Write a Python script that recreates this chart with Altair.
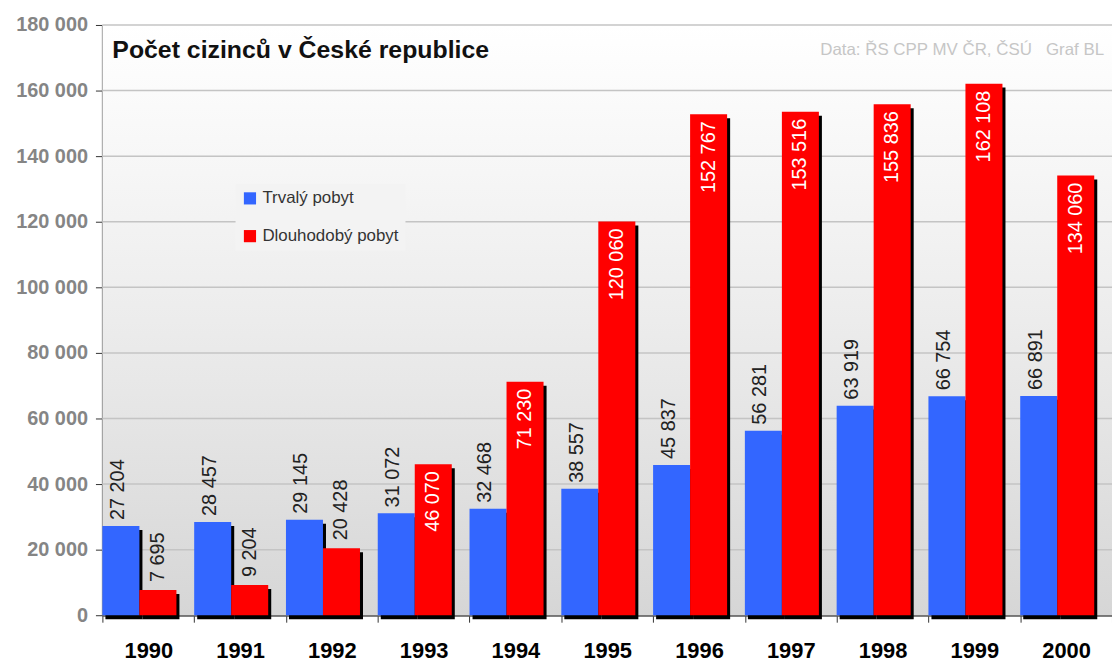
import altair as alt
import pandas as pd

years = ["1990", "1991", "1992", "1993", "1994", "1995", "1996", "1997", "1998", "1999", "2000"]
trvaly = [27204, 28457, 29145, 31072, 32468, 38557, 45837, 56281, 63919, 66754, 66891]
dlouhodoby = [7695, 9204, 20428, 46070, 71230, 120060, 152767, 153516, 155836, 162108, 134060]
series = ["Trvalý pobyt", "Dlouhodobý pobyt"]
colors = ["#3366ff", "#ff0000"]
y_ticks = [0, 20000, 40000, 60000, 80000, 100000, 120000, 140000, 160000, 180000]
title_text = "Počet cizinců v České republice"
source_text = "Data: ŘS CPP MV ČR, ČSÚ\u00a0\u00a0\u00a0Graf BL"

rows = []
for i, yr in enumerate(years):
    for s, vals in zip(series, [trvaly, dlouhodoby]):
        v = vals[i]
        rows.append({"rok": yr, "typ": s, "pocet": v,
                     "label": f"{v:,}".replace(",", "\u00a0")})
df = pd.DataFrame(rows)
grid_df = pd.DataFrame({"pocet": y_ticks[1:]})

W, H = 1016, 594
FONT = "Liberation Sans"
PO = 0.24

x_enc = alt.X("rok:N", sort=years, title=None,
              scale=alt.Scale(paddingInner=0, paddingOuter=0),
              axis=alt.Axis(labelAngle=0, tickBand="extent", labelFontSize=22,
                            labelFontWeight="bold", labelColor="#000000",
                            labelFont=FONT, labelPadding=19, tickSize=7,
                            tickColor="#333333", domainColor="#555555",
                            domainWidth=2, grid=False))
xoff_enc = alt.XOffset("typ:N", sort=series,
                       scale=alt.Scale(type="band", domain=series, paddingInner=0,
                                       paddingOuter=PO, align=0))
xoff_shadow = alt.XOffset("typ:N", sort=series,
                          scale=alt.Scale(type="band", domain=series, paddingInner=0,
                                          paddingOuter=PO, align=0.17))
y_enc = alt.Y("pocet:Q", title=None,
              scale=alt.Scale(domain=[0, 180000], nice=False),
              axis=alt.Axis(values=y_ticks, labelFontSize=20, labelFontWeight="bold",
                            labelColor="#858585", labelFont=FONT, labelPadding=8,
                            tickSize=7, tickColor="#333333", domainColor="#444444",
                            domainWidth=2, grid=False,
                            labelExpr="replace(format(datum.value, ','), ',', '\u00a0')"))

bg = alt.Chart(pd.DataFrame({"a": [0]})).mark_rect(
    color=alt.LinearGradient(
        gradient="linear", x1=0, x2=0, y1=0, y2=1,
        stops=[alt.GradientStop(color="#ffffff", offset=0),
               alt.GradientStop(color="#f6f6f6", offset=0.25),
               alt.GradientStop(color="#e8e8e8", offset=0.6),
               alt.GradientStop(color="#d6d6d6", offset=1)]
    )
).encode(x=alt.value(0), x2=alt.value(W), y=alt.value(0), y2=alt.value(H))

grid = alt.Chart(grid_df).mark_rule(color="#c4c4c4", strokeWidth=1.5).encode(
    y=alt.Y("pocet:Q", scale=alt.Scale(domain=[0, 180000], nice=False))
)

base = alt.Chart(df)

shadow = base.mark_bar(color="#000000", yOffset=4, y2Offset=-4).encode(
    x=x_enc, xOffset=xoff_shadow, y=y_enc
)

bars = base.mark_bar(opacity=1).encode(
    x=x_enc, xOffset=xoff_enc, y=y_enc,
    color=alt.Color("typ:N", sort=series,
                    scale=alt.Scale(domain=series, range=colors),
                    legend=alt.Legend(title=None, orient="none", legendX=134, legendY=160,
                                      symbolType="square", symbolSize=150,
                                      symbolStrokeWidth=0, labelFontSize=17,
                                      labelFont=FONT, labelColor="#333333",
                                      rowPadding=20, fillColor="#f3f3f3",
                                      padding=6, labelLimit=300))
)

lab_blue = base.transform_filter(alt.datum.typ == "Trvalý pobyt").mark_text(
    angle=270, align="left", baseline="middle", dx=6, dy=-3,
    fontSize=20, font=FONT, color="#222222"
).encode(x=x_enc, xOffset=xoff_enc, y=y_enc, text="label:N")

lab_red_out = base.transform_filter(
    (alt.datum.typ == "Dlouhodobý pobyt") & (alt.datum.pocet < 40000)
).mark_text(
    angle=270, align="left", baseline="middle", dx=8, dy=0,
    fontSize=20, font=FONT, color="#222222"
).encode(x=x_enc, xOffset=xoff_enc, y=y_enc, text="label:N")

lab_red_in = base.transform_filter(
    (alt.datum.typ == "Dlouhodobý pobyt") & (alt.datum.pocet >= 40000)
).mark_text(
    angle=270, align="right", baseline="middle", dx=-7, dy=0,
    fontSize=20, font=FONT, color="#ffffff"
).encode(x=x_enc, xOffset=xoff_enc, y=y_enc, text="label:N")

title = alt.Chart(pd.DataFrame({"t": [title_text]})).mark_text(
    align="left", baseline="middle", fontSize=25, fontWeight="bold",
    font=FONT, color="#111111"
).encode(x=alt.value(10), y=alt.value(25), text="t:N")

source = alt.Chart(pd.DataFrame({"t": [source_text]})).mark_text(
    align="right", baseline="middle", fontSize=17, font=FONT, color="#c6c6c6"
).encode(x=alt.value(W - 8), y=alt.value(25), text="t:N")

main = alt.layer(bars, lab_blue, lab_red_out, lab_red_in)

chart = alt.layer(bg, grid, shadow, main, title, source).resolve_scale(
    xOffset="independent"
).properties(
    width=W, height=H,
    autosize=alt.AutoSizeParams(type="none"),
    padding={"left": 95, "top": 15, "right": 0, "bottom": 48},
    background="#ffffff",
).configure_view(stroke=None)

chart.save("out.html", embed_options={"renderer": "svg", "actions": False})
